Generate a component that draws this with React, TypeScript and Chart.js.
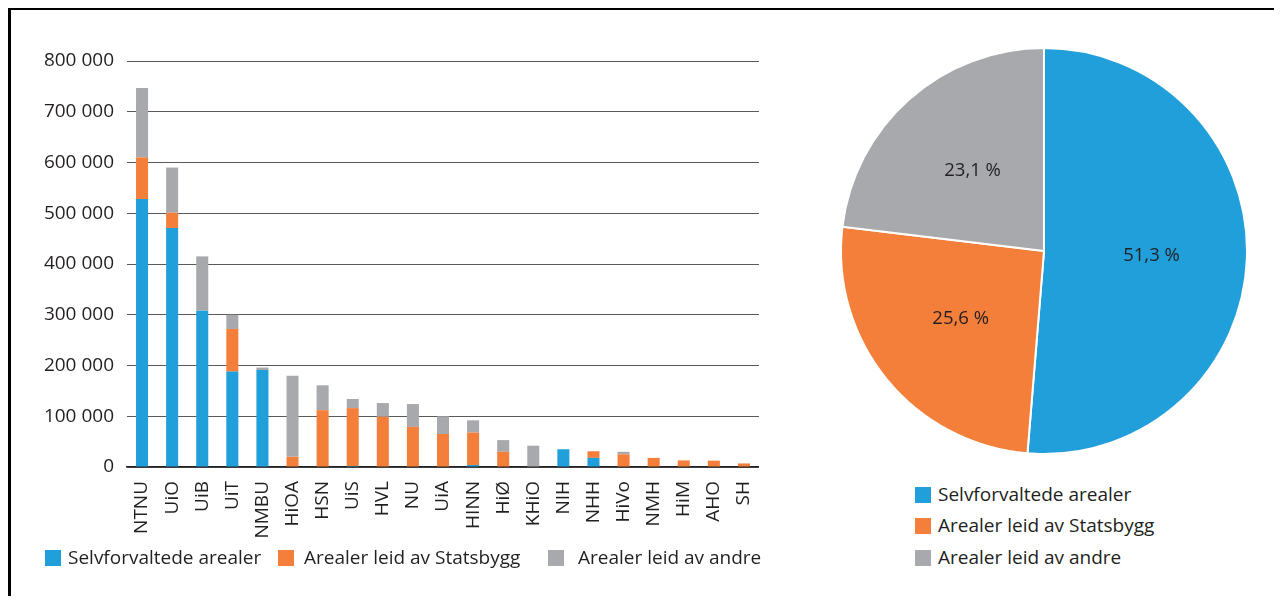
import React, { useEffect, useRef } from "react";
import { Chart, registerables } from "chart.js";

Chart.register(...registerables);

const categories = ["NTNU", "UiO", "UiB", "UiT", "NMBU", "HiOA", "HSN", "UiS", "HVL", "NU", "UiA", "HINN", "HiØ", "KHiO", "NIH", "NHH", "HiVo", "NMH", "HiM", "AHO", "SH"];
const selvforvaltede = [528000, 471000, 308000, 188000, 191000, 0, 1000, 2000, 0, 0, 0, 4000, 0, 0, 35000, 18000, 0, 0, 0, 0, 0];
const leidStatsbygg = [82000, 30000, 0, 84000, 0, 20000, 111000, 114000, 99000, 79000, 65000, 64000, 30000, 0, 0, 13000, 25000, 18000, 13000, 12500, 7000];
const leidAndre = [137000, 89000, 107000, 28000, 5000, 160000, 49000, 18000, 27000, 45000, 35000, 24000, 23000, 42000, 0, 0, 5000, 0, 0, 0, 0];

const seriesNames = ["Selvforvaltede arealer", "Arealer leid av Statsbygg", "Arealer leid av andre"];
const pieShares = [51.3, 25.6, 23.1];
const yTicks = [0, 100000, 200000, 300000, 400000, 500000, 600000, 700000, 800000];

const BLUE = "#219fda";
const ORANGE = "#f47f3a";
const GRAY = "#a8a9ad";
const colors = [BLUE, ORANGE, GRAY];
const FONT = "'Open Sans', sans-serif";
const TEXT = "#231f20";

function fmt(v: number): string {
  return String(v).replace(/\B(?=(\d{3})+(?!\d))/g, " ");
}

export default function App() {
  const barRef = useRef<HTMLCanvasElement>(null);
  const pieRef = useRef<HTMLCanvasElement>(null);

  useEffect(() => {
    const seriesData = [selvforvaltede, leidStatsbygg, leidAndre];
    const bar = new Chart(barRef.current!, {
      type: "bar",
      data: {
        labels: categories,
        datasets: seriesNames.map((name, i) => ({
          label: name,
          data: seriesData[i],
          backgroundColor: colors[i],
          borderWidth: 0,
          barPercentage: 0.4,
          categoryPercentage: 1,
        })),
      },
      options: {
        animation: false,
        responsive: false,
        events: [],
        layout: { padding: { top: 51, right: 0, left: 0, bottom: 0 } },
        plugins: { legend: { display: false }, tooltip: { enabled: false } },
        scales: {
          x: {
            stacked: true,
            grid: { display: false },
            border: { display: true, color: "#222", width: 1.5 },
            ticks: {
              color: TEXT,
              font: { family: FONT, size: 19 },
              minRotation: 90,
              maxRotation: 90,
              autoSkip: false,
              padding: 6,
            },
            afterFit: (s: any) => {
              s.height = 91;
              s.paddingLeft = 0;
              s.paddingRight = 0;
            },
          },
          y: {
            stacked: true,
            min: 0,
            max: 800000,
            afterBuildTicks: (s: any) => {
              s.ticks = yTicks.map((v) => ({ value: v }));
            },
            grid: { color: "#5a5a5a", lineWidth: 1, drawTicks: false },
            border: { display: false },
            ticks: {
              color: TEXT,
              font: { family: FONT, size: 19 },
              padding: 13,
              callback: (v: any) => fmt(Number(v)),
            },
            afterFit: (s: any) => {
              s.width = 117;
            },
          },
        },
      },
    });

    const labelPlugin = {
      id: "pieLabels",
      afterDatasetsDraw(chart: any) {
        const ctx = chart.ctx;
        const meta = chart.getDatasetMeta(0);
        ctx.save();
        ctx.fillStyle = TEXT;
        ctx.font = `18.5px ${FONT}`;
        ctx.textAlign = "center";
        ctx.textBaseline = "middle";
        meta.data.forEach((arc: any, i: number) => {
          const p = arc.getProps(["x", "y", "startAngle", "endAngle", "outerRadius"], true);
          const mid = (p.startAngle + p.endAngle) / 2;
          const r = p.outerRadius * 0.53;
          const txt = pieShares[i].toFixed(1).replace(".", ",") + " %";
          ctx.fillText(txt, p.x + Math.cos(mid) * r, p.y + Math.sin(mid) * r);
        });
        ctx.restore();
      },
    };

    const pie = new Chart(pieRef.current!, {
      type: "pie",
      data: {
        labels: seriesNames,
        datasets: [
          {
            data: pieShares,
            backgroundColor: colors,
            borderColor: "#ffffff",
            borderWidth: 2,
          },
        ],
      },
      options: {
        animation: false,
        responsive: false,
        events: [],
        radius: 203,
        plugins: { legend: { display: false }, tooltip: { enabled: false } },
      },
      plugins: [labelPlugin],
    });

    return () => {
      bar.destroy();
      pie.destroy();
    };
  }, []);

  const legendText: React.CSSProperties = {
    position: "absolute",
    fontFamily: FONT,
    fontSize: 19,
    color: TEXT,
    whiteSpace: "nowrap",
    lineHeight: "20px",
  };
  const sq = (c: string, x: number, y: number) => (
    <div style={{ position: "absolute", left: x, top: y - 8, width: 16, height: 16, background: c }} />
  );

  const barLegend = [
    { x: 45, tx: 68 },
    { x: 278, tx: 304 },
    { x: 548, tx: 578 },
  ];
  const pieRows = [495, 526, 558];

  return (
    <div style={{ position: "relative", width: 1266, height: 588, overflow: "hidden", fontFamily: FONT }}>
      <div style={{ position: "absolute", left: 0, top: -1, right: -10, bottom: -10, borderLeft: "3px solid #000", borderTop: "3px solid #000" }} />
      <canvas ref={barRef} width={749} height={548} style={{ position: "absolute", left: 2, top: 2 }} />
      <canvas ref={pieRef} width={420} height={420} style={{ position: "absolute", left: 1044 - 210 - 8, top: 251 - 210 - 8 }} />
      {barLegend.map((l, i) => (
        <React.Fragment key={i}>
          {sq(colors[i], l.x - 8, 558 - 8)}
          <div style={{ ...legendText, left: l.tx - 8, top: 558 - 8 - 11 }}>{seriesNames[i]}</div>
        </React.Fragment>
      ))}
      {pieRows.map((y, i) => (
        <React.Fragment key={i}>
          {sq(colors[i], 915 - 8, y - 8)}
          <div style={{ ...legendText, left: 938 - 8, top: y - 8 - 11 }}>{seriesNames[i]}</div>
        </React.Fragment>
      ))}
    </div>
  );
}
